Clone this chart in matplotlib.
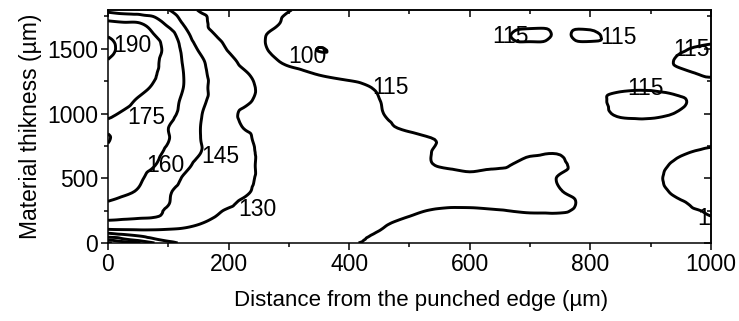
import numpy as np
import matplotlib
matplotlib.use("Agg")
import matplotlib.pyplot as plt
import matplotlib.tri as mtri
from matplotlib.ticker import MultipleLocator

plt.rcParams['font.family'] = ['Liberation Sans', 'DejaVu Sans']

# Measurement grid: distance from the punched edge (µm) and position through the thickness (µm)
distance = [0, 25, 50, 75, 100, 125, 150, 175, 200, 225, 250, 275, 300, 350, 400,
            450, 500, 550, 600, 650, 700, 750, 800, 850, 900, 950, 1000]
thickness = [0, 25, 50, 75, 100, 150, 200, 250, 300, 400, 500, 600, 700, 800, 900,
             1000, 1100, 1200, 1300, 1400, 1500, 1600, 1700, 1800]

# Hardness values, one row per thickness position (bottom to top)
hardness = [
    [68, 76, 83, 99, 111, 117, 120, 121.5, 122, 122, 121, 120, 119.5, 117.5, 115.8, 113, 111, 110, 109, 109, 109, 109, 109, 109, 109, 109, 109],
    [85.5, 96, 104, 112, 118, 121, 122.5, 123, 123, 122.5, 121.5, 120.5, 120, 118, 116, 114, 112, 110, 109, 109, 109, 109, 109, 109, 109, 109, 109],
    [103, 107, 113, 118.5, 122, 123.5, 124, 124, 123.5, 123, 122, 121, 120, 118.5, 116.5, 114.2, 112, 110, 109, 109, 109, 109, 109, 109, 109, 109, 109],
    [114.7, 119, 122.5, 125, 126, 126, 125.5, 125, 124.5, 124, 122.5, 121.5, 120.5, 119, 117, 114.6, 112, 110, 109, 109, 109, 109, 109, 109, 109, 109, 109],
    [128, 129, 129.6, 129.7, 129.2, 128.5, 127.5, 126.5, 125.5, 124.5, 123, 122, 121, 119.5, 117.5, 115.1, 112, 110, 109, 109, 109, 109, 109, 109, 109, 109, 110],
    [141, 140, 139.5, 138, 136, 133.5, 130.5, 128, 126, 124.5, 123, 122, 121, 120, 118.5, 116, 113, 110, 109, 109, 109, 110, 109, 109, 109, 110, 111],
    [148, 147, 146, 145.3, 143, 139, 134, 130.2, 128, 126, 124, 123, 122, 121, 119, 117, 114.8, 112, 110, 110, 111, 112, 110, 109, 109, 111, 114.7],
    [153, 150, 148, 146.5, 144, 140, 136, 132, 129, 127, 125, 124, 123, 122, 120, 118.5, 116.5, 114, 113.5, 114.5, 117, 116.5, 111, 109, 110, 113, 116],
    [158, 154, 151, 148, 145.2, 141, 138, 135, 131.5, 128, 126, 125, 124, 123, 122, 121, 119, 117, 116.5, 118, 119, 118, 112, 109, 110, 114, 118],
    [166, 163, 159, 153, 146.5, 141, 139, 137, 135, 132, 128, 126, 125, 124, 123, 122, 121, 120, 120, 120, 119, 115.3, 111, 109, 112, 117, 120],
    [168, 164, 161.5, 157, 152, 144, 140, 138, 136, 133, 129, 127, 126, 124, 123, 122, 121, 120, 119, 119, 118, 114.5, 111, 109, 113, 118, 121],
    [170, 166, 163, 160.5, 156, 149, 142, 139, 137, 134, 129, 127, 126, 124, 122, 120, 118, 114.5, 111, 114, 117, 116, 111, 109, 112, 117, 120],
    [172, 168, 165, 162, 158.5, 153, 146, 141, 138, 134, 129, 127, 126, 124, 122, 120, 118, 114, 112, 112, 114, 114.5, 110, 109, 110, 114, 117],
    [176, 169, 166, 163, 160.3, 155, 146, 141, 137, 133, 128, 126, 125, 123, 121, 120, 118, 114.5, 112, 110, 110, 110, 109, 109, 109, 110, 112],
    [173, 170, 167, 164, 160.2, 155, 146, 140, 135, 129.5, 127, 125, 124, 122, 120, 117, 113, 111, 110, 109, 109, 109, 109, 110, 110, 110, 110],
    [177, 174, 171, 168, 163, 157, 147, 140, 134, 128, 126, 124, 123, 121, 119, 115.5, 112, 110, 109, 109, 109, 109, 110, 117, 118, 114, 110],
    [181, 178, 174, 170, 165, 158, 149, 142, 137, 133, 128, 126, 124, 121, 119, 115.1, 112, 110, 109, 109, 109, 109, 110, 119, 121, 116, 110],
    [184, 181, 178, 174, 170, 160, 151, 142, 138, 134, 129, 126, 124, 121, 118, 114, 111, 109, 108, 109, 109, 109, 110, 113, 113.5, 112, 110],
    [186, 184, 180, 176, 171, 160.2, 150, 142, 137, 132, 127, 124, 121, 114.8, 112, 110, 109, 108, 108, 109, 109, 109, 110, 110, 110, 113, 116],
    [189.5, 186, 182, 177, 171, 159, 149, 140, 134, 127, 122, 117, 112, 106, 106, 107, 107, 108, 108, 109, 109, 109, 110, 110, 110, 116.5, 120],
    [192, 188, 184, 179, 171, 157, 144, 136, 129, 124, 118, 113, 110, 99.7, 106, 106, 107, 108, 109, 110, 110, 110, 111, 110, 110, 114, 118],
    [189.5, 186, 181, 176, 168, 152, 138, 131, 126, 122, 117, 113, 110, 106, 106, 106, 107, 108, 110, 113, 118, 114, 117, 110, 110, 111, 110],
    [178, 176, 175.5, 168, 156, 144, 136, 127, 124, 121, 119, 116.5, 113, 110, 108, 107, 107, 108, 109, 110, 112, 112, 112, 111, 110, 110, 111],
    [156, 153, 152, 152, 145.5, 138, 129.5, 126, 123, 121, 119, 117, 115.3, 112, 110, 109, 108, 108, 109, 110, 111, 111, 111, 110, 110, 110, 111],
]

levels = [70, 85, 100, 115, 130, 145, 160, 175, 190]

# Level labels: (level, distance, thickness)
labelled = [
    (190, 41, 1524), (175, 63, 967), (160, 95, 596), (145, 187, 665),
    (130, 247, 255), (100, 330, 1439), (115, 468, 1199), (115, 667, 1593),
    (115, 847, 1586), (115, 967, 1493), (115, 892, 1191),
]

fig = plt.figure(figsize=(7.39, 3.21), dpi=100)
ax = fig.add_axes([0.1461, 0.243, 0.816, 0.7259])

# Smooth contour map: triangulate the grid and let matplotlib refine the field
X, Y = np.meshgrid(distance, thickness)
Z = np.array(hardness, dtype=float)
tri = mtri.Triangulation(X.ravel(), Y.ravel())
interp = mtri.CubicTriInterpolator(tri, Z.ravel(), kind='geom')
refiner = mtri.UniformTriRefiner(tri)
tri_f, z_f = refiner.refine_field(Z.ravel(), triinterpolator=interp, subdiv=3)
ax.tricontour(tri_f, z_f, levels=levels, colors='black', linewidths=2.1)

fs = 16.5
for lev, lx, ly in labelled:
    ax.text(lx, ly, f"{lev}", fontsize=fs, ha='center', va='center', clip_on=True)
# label of the small region at the right edge, cut by the frame
ax.text(978, 193, "115", fontsize=fs, ha='left', va='center', clip_on=True)

ax.set_xlim(0, 1000)
ax.set_ylim(0, 1800)
ax.set_xticks([0, 200, 400, 600, 800, 1000])
ax.set_yticks([0, 500, 1000, 1500])
ax.xaxis.set_minor_locator(MultipleLocator(100))
ax.yaxis.set_minor_locator(MultipleLocator(250))
ax.tick_params(which='both', direction='out', top=False, right=False,
               labelsize=fs, width=1.1, pad=2)
ax.tick_params(which='major', length=5)
ax.tick_params(which='minor', length=3)

top = ax.secondary_xaxis('top')
top.set_xticks([0, 200, 400, 600, 800, 1000])
top.xaxis.set_minor_locator(MultipleLocator(100))
top.tick_params(which='both', direction='in', labeltop=False, width=1.1)
top.tick_params(which='major', length=5)
top.tick_params(which='minor', length=3)

right = ax.secondary_yaxis('right')
right.set_yticks([0, 500, 1000, 1500])
right.yaxis.set_minor_locator(MultipleLocator(250))
right.tick_params(which='both', direction='in', labelright=False, width=1.1)
right.tick_params(which='major', length=5)
right.tick_params(which='minor', length=3)

for sp in list(ax.spines.values()) + [top.spines['top'], right.spines['right']]:
    sp.set_linewidth(1.1)

ax.set_xlabel("Distance from the punched edge (µm)", fontsize=16)
ax.xaxis.set_label_coords(0.52, -0.2)
ax.set_ylabel("Material thikness (µm)", fontsize=fs, labelpad=4)

fig.savefig("out.png", dpi=100)
